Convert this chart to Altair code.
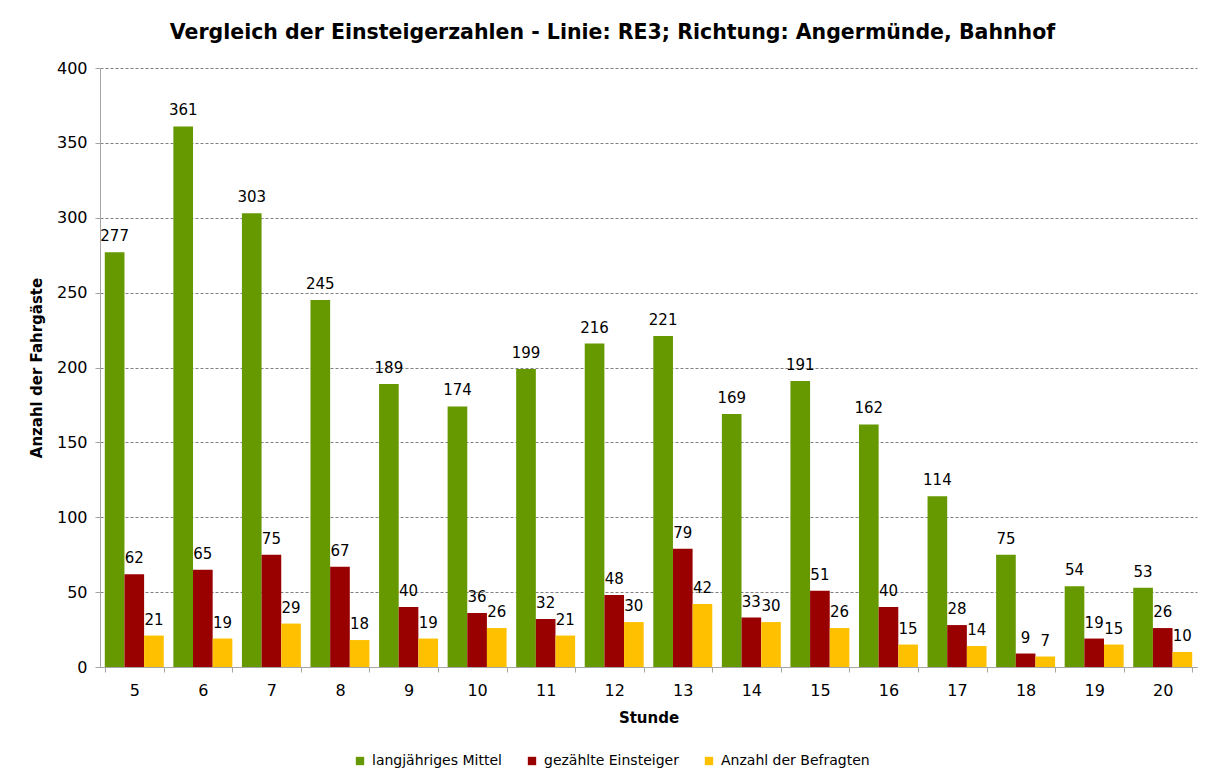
import altair as alt
import pandas as pd

stunden = [5, 6, 7, 8, 9, 10, 11, 12, 13, 14, 15, 16, 17, 18, 19, 20]
series = ["langjähriges Mittel", "gezählte Einsteiger", "Anzahl der Befragten"]
mittel = [277, 361, 303, 245, 189, 174, 199, 216, 221, 169, 191, 162, 114, 75, 54, 53]
gezaehlt = [62, 65, 75, 67, 40, 36, 32, 48, 79, 33, 51, 40, 28, 9, 19, 26]
befragt = [21, 19, 29, 18, 19, 26, 21, 30, 42, 30, 26, 15, 14, 7, 15, 10]
colors = ["#669900", "#990000", "#FFC000"]

rows = []
for vals, s in zip([mittel, gezaehlt, befragt], series):
    for h, v in zip(stunden, vals):
        rows.append({"Stunde": str(h), "Serie": s, "Wert": v})
df = pd.DataFrame(rows)

FONT = "DejaVu Sans"
order = [str(h) for h in stunden]

x = alt.X("Stunde:N", sort=order,
          scale=alt.Scale(paddingInner=0.14, paddingOuter=0.07),
          axis=alt.Axis(title="Stunde", labelAngle=0, tickBand="extent",
                        domainColor="#a6a6a6", tickColor="#a6a6a6", tickSize=5,
                        labelFontSize=16, labelPadding=10, titleFontSize=15,
                        titleFontWeight="bold", titlePadding=12, grid=False))
xoff = alt.XOffset("Serie:N", sort=series, scale=alt.Scale(paddingInner=0))
y = alt.Y("Wert:Q", scale=alt.Scale(domain=[0, 400]),
          axis=alt.Axis(title="Anzahl der Fahrgäste", values=list(range(0, 401, 50)),
                        domainColor="#a6a6a6", tickColor="#a6a6a6", tickSize=5,
                        gridColor="#808080", gridDash=[3, 2], gridWidth=1,
                        labelFontSize=16, labelPadding=8, titleFontSize=15,
                        titleFontWeight="bold", titlePadding=12))
color = alt.Color("Serie:N", sort=series,
                  scale=alt.Scale(domain=series, range=colors),
                  legend=alt.Legend(title=None, orient="none", direction="horizontal",
                                    legendX=253, legendY=686, symbolType="square",
                                    symbolSize=70, symbolStrokeWidth=0,
                                    labelFontSize=14, columnPadding=23,
                                    labelOffset=5, labelLimit=300))

bars = alt.Chart(df).mark_bar().encode(x=x, xOffset=xoff, y=y, color=color)
labels = alt.Chart(df).mark_text(baseline="bottom", dy=-8, fontSize=15,
                                 color="#000000", font=FONT).encode(
    x=alt.X("Stunde:N", sort=order), xOffset=xoff, y="Wert:Q", text="Wert:Q")

chart = (bars + labels).properties(
    width=1097, height=599,
    autosize=alt.AutoSizeParams(type="none"),
    padding={"left": 92, "top": 60, "right": 5, "bottom": 108},
    title=alt.TitleParams("Vergleich der Einsteigerzahlen - Linie: RE3; Richtung: Angermünde, Bahnhof",
                          fontSize=20.5, fontWeight="bold", font=FONT, anchor="middle",
                          dx=-36, offset=17, color="#000000"),
).configure(font=FONT).configure_view(stroke=None).configure_axis(
    labelColor="#000000", titleColor="#000000", labelFont=FONT, titleFont=FONT
).configure_legend(labelFont=FONT, labelColor="#000000")

chart.save("out.html", embed_options={"renderer": "svg", "actions": False})
